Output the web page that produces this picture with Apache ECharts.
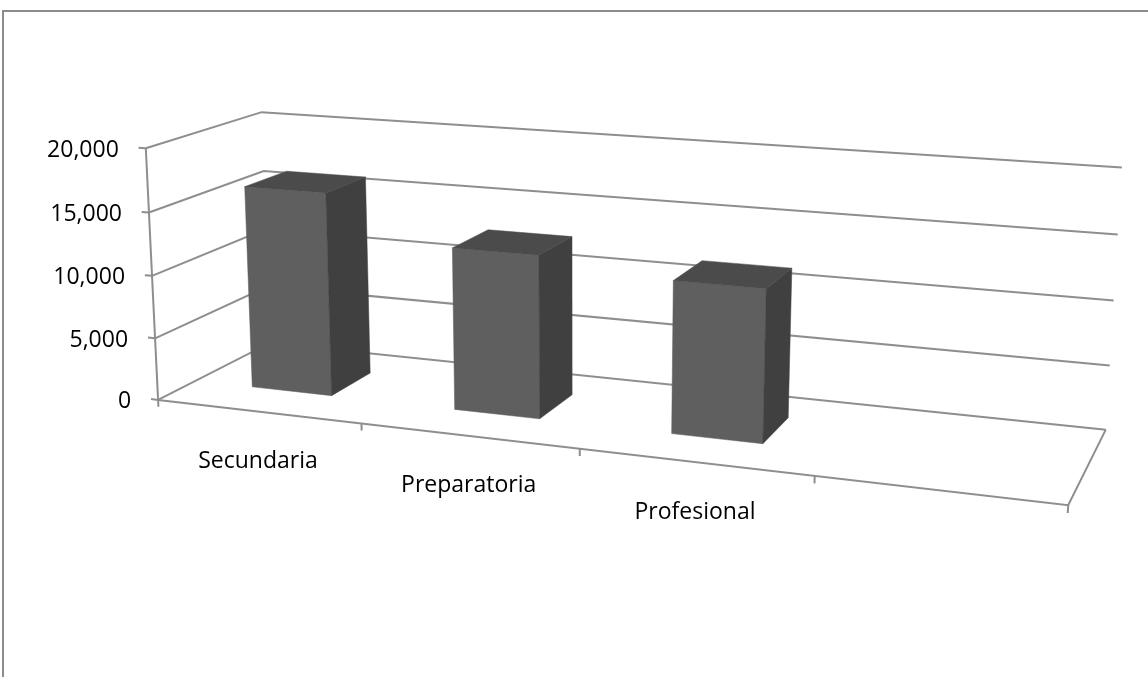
<!DOCTYPE html>
<html><head><meta charset="utf-8">
<script src="https://cdn.jsdelivr.net/npm/echarts@6/dist/echarts.min.js"></script>
<style>html,body{margin:0;padding:0;background:#fff}#chart{width:1148px;height:677px}</style>
</head><body><div id="chart"></div>
<script>
// ---------- data ----------
const categories = ['Secundaria', 'Preparatoria', 'Profesional', ''];
const values = [16300, 12800, 11750, null];
const valueTicks = [0, 5000, 10000, 15000, 20000];
const valueMax = 20000;

// ---------- layout (3D box calibration: normalized box corner -> screen px) ----------
const BOX = [
  [[0, 0, 0], [160, 400]], [[1, 0, 0], [1068, 505]], [[0, 0, 1], [268, 344]], [[1, 0, 1], [1106, 429]],
  [[0, 1, 0], [145, 149]], [[0, 1, 1], [262, 113]], [[1, 1, 1], [1122, 168]],
  [[0, 0.75, 0], [148, 212]], [[0, 0.5, 0], [152, 275]], [[0, 0.25, 0], [155, 337]],
  [[0, 0.75, 1], [265, 170]], [[1, 0.75, 1], [1118, 235]], [[1, 0.5, 1], [1113, 300]], [[1, 0.25, 1], [1110, 365]],
  [[0.25, 0, 0], [362, 424]], [[0.5, 0, 0], [579, 449]], [[0.75, 0, 0], [815, 477]]
];
const BAR_X = [0.29, 0.69]; // fraction of the category band
const BAR_Z = [0.32, 0.7];  // fraction of depth
const STYLE = {
  line: '#8e8e8e', lineW: 2, front: '#5f5f5f', side: '#404040', top: '#4b4b4b',
  font: '23px "Open Sans"', text: '#000'
};

function fitCamera(pts) {
  const N = 11, S = 1000;
  const M = Array.from({length: N}, () => new Array(N + 1).fill(0));
  const rows = [];
  pts.forEach(([w, s]) => {
    const [X, Y, Z] = w; const u = s[0] / S, v = s[1] / S;
    rows.push([[X, Y, Z, 1, 0, 0, 0, 0, -u * X, -u * Y, -u * Z], u]);
    rows.push([[0, 0, 0, 0, X, Y, Z, 1, -v * X, -v * Y, -v * Z], v]);
  });
  rows.forEach(([a, b]) => {
    for (let i = 0; i < N; i++) {
      for (let j = 0; j < N; j++) M[i][j] += a[i] * a[j];
      M[i][N] += a[i] * b;
    }
  });
  for (let c = 0; c < N; c++) {
    let p = c;
    for (let r = c + 1; r < N; r++) if (Math.abs(M[r][c]) > Math.abs(M[p][c])) p = r;
    [M[c], M[p]] = [M[p], M[c]];
    for (let r = 0; r < N; r++) {
      if (r === c) continue;
      const f = M[r][c] / M[c][c];
      for (let k = c; k <= N; k++) M[r][k] -= f * M[c][k];
    }
  }
  const p = M.map((row, i) => row[N] / row[i]);
  return function (X, Y, Z) {
    const w = p[8] * X + p[9] * Y + p[10] * Z + 1;
    return [S * (p[0] * X + p[1] * Y + p[2] * Z + p[3]) / w, S * (p[4] * X + p[5] * Y + p[6] * Z + p[7]) / w];
  };
}
const P = fitCamera(BOX);

function normX(params, px) { const cs = params.coordSys; return (px - cs.x) / cs.width; }
function normY(params, py) { const cs = params.coordSys; return (cs.y + cs.height - py) / cs.height; }
function bandEdges(params, api, i) {
  const c = api.coord([i, 0])[0]; const bw = api.size([1, 0])[0];
  return [normX(params, c - bw / 2), normX(params, c + bw / 2), normX(params, c)];
}
function poly(points, fill) {
  return {type: 'polygon', shape: {points}, style: {fill, stroke: fill, lineWidth: 0.5}};
}
function pline(points) {
  return {type: 'polyline', shape: {points}, style: {stroke: STYLE.line, lineWidth: STYLE.lineW, fill: null}};
}
const fmt = v => v.toLocaleString('en-US');

const chart = echarts.init(document.getElementById('chart'), null, {renderer: 'canvas'});
chart.setOption({
  animation: false,
  backgroundColor: '#fff',
  graphic: [{type: 'rect', shape: {x: 3, y: 11, width: 1300, height: 900},
    style: {fill: 'none', stroke: '#8c8c8c', lineWidth: 2}, silent: true}],
  grid: {left: 0, top: 0, width: 400, height: 400, show: false},
  xAxis: {type: 'category', data: categories, show: false},
  yAxis: {type: 'value', min: 0, max: valueMax, interval: 5000, show: false},
  series: [
    { // walls, gridlines, value axis
      type: 'custom', clip: false, z: 1,
      data: valueTicks.map(v => [0, v]),
      renderItem: function (params, api) {
        const v = api.value(1);
        const y = normY(params, api.coord([0, v])[1]);
        const ch = [];
        ch.push(pline([P(0, y, 0), P(0, y, 1), P(1, y, 1)]));
        const a = P(0, y, 0), t = P(-0.009, y, 0);
        ch.push(pline([a, t]));
        ch.push({type: 'text', style: {text: fmt(v), x: a[0] - 27, y: a[1] + 2, align: 'right',
          verticalAlign: 'middle', font: STYLE.font, fill: STYLE.text}});
        if (v === valueTicks[0]) {
          ch.push(pline([P(0, 0, 0), P(1, 0, 0), P(1, 0, 1)]));
          ch.push(pline([P(0, 0, 0), P(0, 1, 0)]));
        }
        return {type: 'group', children: ch};
      }
    },
    { // category ticks & labels
      type: 'custom', clip: false, z: 2,
      data: categories.map((c, i) => [i, 0]),
      renderItem: function (params, api) {
        const i = api.value(0);
        const [x0, x1, xc] = bandEdges(params, api, i);
        const ch = [];
        const tick = x => pline([P(x, 0, 0), P(x, -0.028, 0)]);
        ch.push(tick(x0));
        if (i === categories.length - 1) ch.push(tick(x1));
        const a = P(xc, 0, 0);
        ch.push({type: 'text', style: {text: categories[i], x: a[0], y: a[1] + 50, align: 'center',
          verticalAlign: 'middle', font: STYLE.font, fill: STYLE.text}});
        return {type: 'group', children: ch};
      }
    },
    { // bars
      type: 'custom', clip: false, z: 3,
      data: values.map((v, i) => [i, v == null ? 0 : v, v == null ? 0 : 1]),
      renderItem: function (params, api) {
        if (!api.value(2)) return {type: 'group', children: []};
        const i = api.value(0), v = api.value(1);
        const [x0, x1] = bandEdges(params, api, i);
        const xl = x0 + (x1 - x0) * BAR_X[0], xr = x0 + (x1 - x0) * BAR_X[1];
        const yt = normY(params, api.coord([i, v])[1]);
        const [z0, z1] = BAR_Z;
        return {type: 'group', children: [
          poly([P(xl, 0, z0), P(xr, 0, z0), P(xr, yt, z0), P(xl, yt, z0)], STYLE.front),
          poly([P(xr, 0, z0), P(xr, 0, z1), P(xr, yt, z1), P(xr, yt, z0)], STYLE.side),
          poly([P(xl, yt, z0), P(xr, yt, z0), P(xr, yt, z1), P(xl, yt, z1)], STYLE.top)
        ]};
      }
    }
  ]
});
</script></body></html>
